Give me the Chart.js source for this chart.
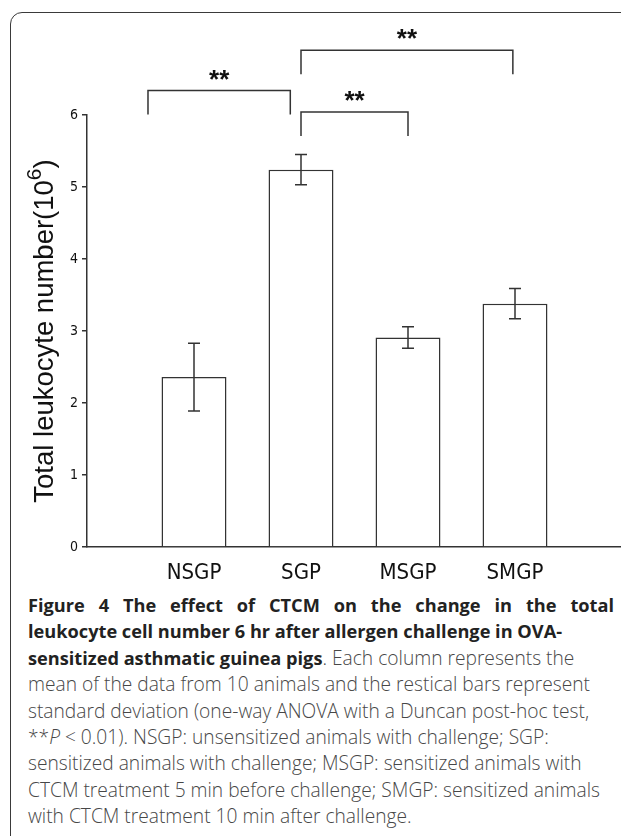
<!DOCTYPE html>
<html>
<head>
<meta charset="utf-8">
<script src="https://cdn.jsdelivr.net/npm/chart.js@4.4.1/dist/chart.umd.min.js"></script>
<style>
  html, body { margin: 0; padding: 0; background: #fff; overflow: hidden; }
  #page { width: 621px; height: 836px; position: relative; overflow: hidden; }
  .frame {
    position: absolute; left: 10px; top: 12px; width: 700px; height: 840px;
    border: 1.5px solid #3a3a3a; border-radius: 12px; box-sizing: border-box;
  }
  .plot { position: absolute; left: 0; top: 0; width: 640px; height: 590px; }
  .caption {
    position: absolute; left: 28px; top: 592px; width: 586px;
    font-family: "Open Sans", sans-serif; font-size: 19.2px; line-height: 26.4px;
    color: #474747; font-weight: 300;
  }
  .caption div { white-space: nowrap; }
  .caption b { color: #222; font-weight: 700; font-size: 18.2px; }
  .caption .first { text-align: justify; text-align-last: justify; }
</style>
</head>
<body>
<div id="page">
<div class="frame"></div>
<div class="plot"><canvas id="chart" width="640" height="590"></canvas></div>
<div class="caption">
  <div class="first"><b>Figure 4 The effect of CTCM on the change in the total</b></div>
  <div><b>leukocyte cell number 6 hr after allergen challenge in OVA-</b></div>
  <div><b>sensitized asthmatic guinea pigs</b>. Each column represents the</div>
  <div>mean of the data from 10 animals and the restical bars represent</div>
  <div>standard deviation (one-way ANOVA with a Duncan post-hoc test,</div>
  <div>**<i>P</i> &lt; 0.01). NSGP: unsensitized animals with challenge; SGP:</div>
  <div>sensitized animals with challenge; MSGP: sensitized animals with</div>
  <div>CTCM treatment 5 min before challenge; SMGP: sensitized animals</div>
  <div>with CTCM treatment 10 min after challenge.</div>
</div>
</div>
<script>
// groups and values (10^6 cells)
const groups = ['NSGP', 'SGP', 'MSGP', 'SMGP'];
const means = [2.36, 5.24, 2.91, 3.38];
const sds = [0.47, 0.21, 0.15, 0.21];
const yTicks = [0, 1, 2, 3, 4, 5, 6];

// significance brackets (x in category units, y in axis units)
const bracketFrom = [0.57, 2, 2];
const bracketTo = [1.9, 3, 3.98];
const bracketTop = [6.34, 6.04, 6.9];
const bracketText = ['**', '**', '**'];

const lineColor = '#333';
const narrow = '"Liberation Sans Narrow", "Arial Narrow", "DejaVu Sans Condensed", sans-serif';
const sans = '"Liberation Sans", Arial, sans-serif';

// empty slots at both ends so the axis runs from the y axis to the right edge
const labels = [''].concat(groups, ['']);
const barData = [null].concat(means, [null]);

const errorBars = {
  id: 'errorBars',
  afterDatasetsDraw(chart) {
    const ctx = chart.ctx;
    const y = chart.scales.y;
    const meta = chart.getDatasetMeta(0);
    ctx.save();
    ctx.strokeStyle = lineColor;
    ctx.lineWidth = 1.5;
    means.forEach((m, i) => {
      const bar = meta.data[i + 1];
      const hi = y.getPixelForValue(m + sds[i]);
      const lo = y.getPixelForValue(m - sds[i]);
      ctx.beginPath();
      ctx.moveTo(bar.x, hi); ctx.lineTo(bar.x, lo);
      ctx.moveTo(bar.x - 6, hi); ctx.lineTo(bar.x + 6, hi);
      ctx.moveTo(bar.x - 6, lo); ctx.lineTo(bar.x + 6, lo);
      ctx.stroke();
    });
    ctx.restore();
  }
};

const brackets = {
  id: 'brackets',
  afterDraw(chart) {
    const ctx = chart.ctx;
    const x = chart.scales.x;
    const y = chart.scales.y;
    ctx.save();
    ctx.strokeStyle = lineColor;
    ctx.lineWidth = 1.5;
    ctx.fillStyle = '#111';
    ctx.font = 'bold 26px ' + sans;
    ctx.textAlign = 'center';
    ctx.textBaseline = 'alphabetic';
    bracketFrom.forEach((f, i) => {
      const x1 = x.getPixelForValue(f);
      const x2 = x.getPixelForValue(bracketTo[i]);
      const top = y.getPixelForValue(bracketTop[i]);
      ctx.beginPath();
      ctx.moveTo(x1, top + 24); ctx.lineTo(x1, top);
      ctx.lineTo(x2, top); ctx.lineTo(x2, top + 24);
      ctx.stroke();
      ctx.fillText(bracketText[i], (x1 + x2) / 2, top - 3);
    });

    // y axis title with superscript
    const main = 'Total leukocyte number(10';
    const sup = '6';
    const tail = ')';
    ctx.fillStyle = '#111';
    ctx.textAlign = 'left';
    ctx.textBaseline = 'middle';
    ctx.font = '27.5px ' + sans;
    const wMain = ctx.measureText(main).width;
    const wTail = ctx.measureText(tail).width;
    ctx.font = '21px ' + sans;
    const wSup = ctx.measureText(sup).width;
    const total = wMain + wSup + wTail;
    const cy = (chart.chartArea.top + chart.chartArea.bottom) / 2;
    ctx.translate(45, cy);
    ctx.rotate(-Math.PI / 2);
    const sx = -total / 2;
    ctx.font = '27.5px ' + sans;
    ctx.fillText(main, sx, 0);
    ctx.font = '21px ' + sans;
    ctx.fillText(sup, sx + wMain, -10);
    ctx.font = '27.5px ' + sans;
    ctx.fillText(tail, sx + wMain + wSup, 0);
    ctx.restore();
  }
};

new Chart(document.getElementById('chart'), {
  type: 'bar',
  data: {
    labels: labels,
    datasets: [{
      label: 'Total leukocyte number',
      data: barData,
      backgroundColor: '#fff',
      borderColor: lineColor,
      borderWidth: 1.5,
      categoryPercentage: 1,
      barPercentage: 0.607
    }]
  },
  options: {
    responsive: false,
    animation: false,
    layout: { padding: { top: 115, right: 18, left: 0, bottom: 0 } },
    plugins: {
      legend: { display: false },
      tooltip: { enabled: false }
    },
    scales: {
      x: {
        offset: false,
        grid: { display: false, drawTicks: false },
        border: { display: true, color: lineColor, width: 1.5 },
        ticks: {
          autoSkip: false, maxRotation: 0, padding: 13,
          color: '#111',
          font: { family: narrow, size: 22 }
        },
        afterFit(scale) { scale.height = 43; }
      },
      y: {
        min: 0,
        max: 6,
        afterBuildTicks(scale) { scale.ticks = yTicks.map(v => ({ value: v })); },
        grid: { drawOnChartArea: false, drawTicks: true, tickLength: 5, color: lineColor, lineWidth: 1.5 },
        border: { display: true, color: lineColor, width: 1.5 },
        ticks: {
          padding: 4,
          color: '#111',
          font: { family: narrow, size: 14 }
        },
        afterFit(scale) { scale.width = 87; }
      }
    }
  },
  plugins: [errorBars, brackets]
});
</script>
</body>
</html>
